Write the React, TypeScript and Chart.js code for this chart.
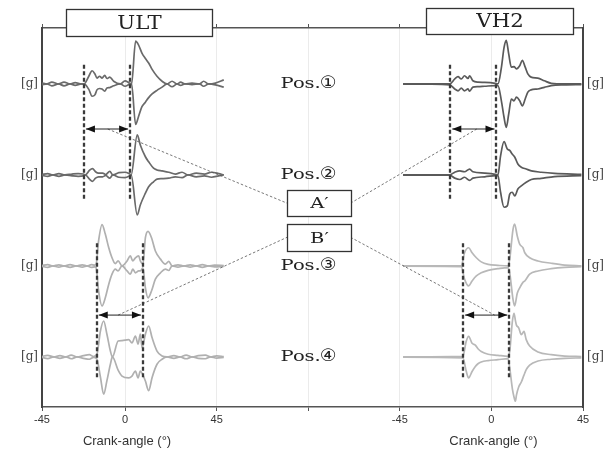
import React, { useEffect, useRef } from "react";
import { Chart, registerables } from "chart.js";

Chart.register(...registerables);

// ---------- axis / label values ----------
const xTickValues = [-40.8, 0, 45, 90, 135, 180, 225];
const xTickLabels = ["-45", "0", "45", "", "-45", "0", "45"];
const yTickValues = [0, 10, 20, 30];
const yTickLabel = "[g]";
const axisTitle = "Crank-angle (°)";
const engineNames = ["ULT", "VH2"];
const engineOffsets = [0, 180]; // VH2 panel is drawn 180 units to the right
const positionPrefix = "Pos.";
const positionMarks = ["①", "②", "③", "④"];
const positionBaselines = [30, 20, 10, 0];
const markerAnglesPos12 = [-20.2, 2.5];
const markerAnglesPos34 = [-13.9, 8.8];
const annotationNames = ["A′", "B′"];

// ---------- ULT traces (crank angle, upper / lower envelope in g) ----------
const ultPos1Angle = [-40.8, -38.3, -36.0, -32.6, -30.0, -27.0, -24.5, -21.5, -20.2, -17.8, -16.2, -14.8, -13.8, -12.5, -11.3, -10.0, -8.9, -7.5, -5.6, -2.3, 0.0, 2.1, 3.2, 5.2, 6.6, 8.3, 10.0, 11.6, 13.3, 15.7, 18.2, 20.6, 23.1, 25.6, 27.3, 29.3, 32.9, 36.6, 38.6, 41.1, 44.4, 48.5];
const ultPos1Upper = [0.1, 0, 0.2, 0, 0.2, 0, 0.15, 0, 0, 0.85, 1.45, 1.1, 0.65, 0.85, 0.65, 0.95, 0.6, 0.75, 0.3, 0, 0.35, 0.1, 0, 4.7, 4.3, 3.4, 2.8, 2.3, 1.6, 0.85, 0.3, 0, 0.3, 0, 0.2, 0, 0.1, 0, 0.3, 0, 0.1, 0.45];
const ultPos1Lower = [-0.1, 0, -0.2, 0, -0.2, 0, -0.15, 0, 0, -0.6, -1.35, -1.2, -0.65, -0.5, -0.55, -0.8, -0.45, -0.4, -0.2, 0, -0.25, -0.05, 0, -4.45, -3.6, -2.5, -2.0, -1.5, -1.1, -0.7, -0.35, 0, -0.3, 0, -0.15, 0, -0.07, 0, -0.25, 0, -0.1, -0.35];

const ultPos2Angle = [-40.8, -38.0, -35.5, -32.5, -29.5, -26.0, -23.0, -20.5, -19.5, -17.5, -16.0, -14.5, -13.0, -11.0, -9.5, -7.5, -6.0, -3.0, 0.0, 2.3, 3.0, 6.0, 7.5, 10.0, 11.6, 14.0, 15.7, 18.2, 21.5, 24.7, 28.0, 31.0, 35.0, 39.0, 42.5, 46.0, 48.5];
const ultPos2Upper = [0.05, 0.15, 0, 0.15, 0, 0.1, 0.15, 0.1, 0, 0.5, 0.7, 0.35, 0.2, 0.2, 0.05, 0.4, 0, 0.25, 0.3, 0.1, 0, 4.4, 3.3, 2.0, 1.45, 0.75, 0.55, 0.45, 0.3, 0.1, 0.3, 0, 0.2, 0.1, 0.3, 0.15, 0];
const ultPos2Lower = [-0.05, -0.15, 0, -0.15, 0, -0.1, -0.15, -0.1, 0, -0.45, -0.7, -0.35, -0.2, -0.2, -0.05, -0.35, 0, -0.25, -0.3, -0.1, 0, -4.4, -3.3, -2.0, -1.3, -0.75, -0.45, -0.4, -0.35, -0.2, -0.3, 0, -0.2, -0.1, -0.25, -0.1, 0];

const ultPos3Angle = [-40.8, -38.0, -35.5, -32.5, -30.0, -27.0, -24.0, -21.0, -18.5, -16.5, -15.0, -14.2, -13.0, -11.3, -9.7, -8.0, -6.4, -4.8, -3.4, -1.5, 1.0, 2.6, 3.8, 5.1, 6.7, 7.5, 8.8, 10.0, 11.3, 13.0, 14.9, 17.4, 19.8, 21.5, 23.1, 26.0, 29.0, 32.0, 35.0, 38.0, 41.0, 44.0, 48.5];
const ultPos3Upper = [0.05, 0.15, 0, 0.12, 0, 0.15, 0, 0.12, 0, 0.15, 0.1, 0.2, 2.75, 4.55, 3.5, 2.0, 0.9, 0.25, 0.55, 0, 0.55, 1.1, 0.55, 0.9, 1.1, 0.55, 0.2, 3.1, 3.8, 3.1, 1.65, 0.75, 0.2, 0.5, 0, 0.12, 0, 0.12, 0, 0.15, 0, 0.1, 0.05];
const ultPos3Lower = [-0.05, -0.15, 0, -0.12, 0, -0.15, 0, -0.12, 0, -0.15, -0.1, -0.2, -2.75, -4.4, -3.5, -2.0, -0.9, -0.35, -0.55, 0, -0.55, -0.9, -0.35, -0.75, -0.55, -0.55, -0.2, -2.4, -3.5, -2.75, -1.45, -0.75, -0.35, -0.5, 0, -0.12, 0, -0.12, 0, -0.15, 0, -0.1, -0.05];

const ultPos4Angle = [-40.8, -38.0, -35.0, -32.0, -29.0, -26.5, -23.5, -20.5, -17.5, -15.5, -13.8, -12.1, -10.5, -8.9, -7.2, -6.2, -3.4, -1.5, 1.8, 3.4, 5.1, 6.4, 7.5, 8.4, 10.0, 11.6, 13.3, 15.7, 18.2, 20.6, 24.0, 27.0, 30.0, 33.0, 36.0, 39.5, 42.0, 45.0, 48.5];
const ultPos4Upper = [0.05, 0.18, 0, 0.15, 0, 0.2, 0, 0.15, 0.25, 0.05, 0.3, 2.85, 3.95, 2.5, 0.65, 0, 1.75, 1.8, 1.9, 1.55, 2.3, 1.4, 2.5, 1.0, 2.5, 3.4, 2.1, 0.65, 0.1, 0, 0.15, 0, 0.2, 0, 0.15, 0.2, 0, 0.12, 0.05];
const ultPos4Lower = [-0.05, -0.18, 0, -0.15, 0, -0.2, 0, -0.15, -0.25, -0.05, -0.25, -2.2, -4.1, -2.6, -0.8, 0, -1.45, -2.1, -2.3, -2.1, -1.55, -2.3, -1.55, -1.8, -2.65, -3.7, -2.25, -0.8, -0.25, 0, -0.15, 0, -0.2, 0, -0.15, -0.2, 0, -0.12, -0.05];

// ---------- VH2 traces ----------
const vh2Pos1Angle = [-43.4, -29.5, -20.5, -18.0, -16.4, -14.8, -13.2, -11.5, -10.7, -9.1, -6.6, -3.3, 1.9, 3.2, 4.9, 6.2, 7.3, 8.5, 9.8, 11.1, 12.3, 13.9, 15.2, 16.6, 17.9, 19.5, 22.8, 26.0, 29.4, 36.0, 44.2];
const vh2Pos1Upper = [0.02, 0.02, 0, 0.55, 0.8, 0.55, 0.9, 0.6, 0.9, 0.35, 0.2, 0.18, 0.07, 0, 1.8, 4.0, 4.8, 3.3, 1.85, 1.9, 1.65, 2.0, 2.6, 1.85, 1.1, 0.75, 0.65, 0.35, 0.07, 0, 0];
const vh2Pos1Lower = [-0.02, -0.02, -0.1, -0.55, -0.75, -0.45, -0.75, -0.55, -0.8, -0.35, -0.3, -0.25, -0.18, -0.18, -1.85, -3.66, -4.76, -3.3, -1.65, -1.85, -1.45, -1.85, -2.4, -1.65, -0.9, -0.65, -0.55, -0.37, -0.18, -0.1, -0.07];

const vh2Pos2Angle = [-43.4, -20.5, -18.0, -15.5, -13.2, -10.7, -9.1, -3.3, 1.9, 3.2, 4.5, 6.2, 7.8, 9.0, 10.2, 11.5, 13.0, 14.7, 17.1, 19.6, 24.5, 31.0, 44.2];
const vh2Pos2Upper = [0.02, 0.02, 0.3, 0.45, 0.35, 0.65, 0.35, 0.2, 0.07, 0, 2.1, 3.66, 2.85, 2.7, 2.3, 1.95, 1.2, 0.85, 0.65, 0.45, 0.3, 0.18, 0.07];
const vh2Pos2Lower = [-0.02, -0.02, -0.35, -0.5, -0.25, -0.6, -0.35, -0.2, -0.07, -0.05, -1.9, -3.55, -3.4, -2.1, -1.9, -2.3, -1.55, -1.2, -0.8, -0.5, -0.37, -0.18, -0.07];

const vh2Pos3Angle = [-43.4, -14.8, -13.2, -11.2, -9.5, -7.4, -5.0, -1.6, 3.2, 8.2, 9.0, 10.6, 11.4, 12.7, 13.9, 15.5, 16.4, 18.8, 22.9, 29.4, 36.0, 44.2];
const vh2Pos3Upper = [0.02, 0.02, 1.45, 2.0, 1.45, 0.9, 0.45, 0.18, 0.07, 0, 0.75, 4.0, 4.6, 3.3, 2.4, 2.0, 1.45, 0.9, 0.55, 0.3, 0.1, 0];
const vh2Pos3Lower = [-0.02, -0.07, -1.45, -2.2, -1.65, -1.1, -0.75, -0.48, -0.3, -0.18, -0.75, -3.66, -4.4, -3.0, -2.4, -1.8, -1.65, -0.9, -0.55, -0.3, -0.15, -0.07];

const vh2Pos4Angle = [-43.4, -14.0, -12.4, -11.2, -9.5, -7.9, -6.6, -5.0, -1.6, 3.2, 8.2, 9.0, 10.3, 11.1, 11.8, 12.3, 13.4, 14.7, 16.0, 17.1, 18.8, 22.9, 29.4, 36.0, 44.2];
const vh2Pos4Upper = [0.02, 0.07, 1.7, 2.27, 1.5, 1.3, 0.9, 0.6, 0.3, 0.18, 0.07, 0.6, 3.9, 4.8, 4.0, 3.5, 3.2, 2.45, 2.8, 1.9, 1.2, 0.55, 0.25, 0.1, 0.05];
const vh2Pos4Lower = [-0.02, -0.1, -1.55, -2.3, -1.6, -1.05, -0.75, -0.55, -0.4, -0.3, -0.18, -1.2, -3.5, -4.4, -4.87, -4.2, -3.3, -2.75, -2.0, -1.4, -0.9, -0.45, -0.25, -0.15, -0.1];

// ---------- styling / layout (data units) ----------
const X_MIN = -40.8;
const X_MAX = 225;
const Y_MIN = -5.5;
const Y_MAX = 36.15;
const DARK_ULT = "#6a6a6a";
const LIGHT_ULT = "#b0b0b0";
const DARK_VH2 = "#5a5a5a";
const LIGHT_VH2 = "#b8b8b8";

const traces = [
  { angle: ultPos1Angle, upper: ultPos1Upper, lower: ultPos1Lower, pos: 0, eng: 0, color: DARK_ULT },
  { angle: ultPos2Angle, upper: ultPos2Upper, lower: ultPos2Lower, pos: 1, eng: 0, color: DARK_ULT },
  { angle: ultPos3Angle, upper: ultPos3Upper, lower: ultPos3Lower, pos: 2, eng: 0, color: LIGHT_ULT },
  { angle: ultPos4Angle, upper: ultPos4Upper, lower: ultPos4Lower, pos: 3, eng: 0, color: LIGHT_ULT },
  { angle: vh2Pos1Angle, upper: vh2Pos1Upper, lower: vh2Pos1Lower, pos: 0, eng: 1, color: DARK_VH2 },
  { angle: vh2Pos2Angle, upper: vh2Pos2Upper, lower: vh2Pos2Lower, pos: 1, eng: 1, color: DARK_VH2 },
  { angle: vh2Pos3Angle, upper: vh2Pos3Upper, lower: vh2Pos3Lower, pos: 2, eng: 1, color: LIGHT_VH2 },
  { angle: vh2Pos4Angle, upper: vh2Pos4Upper, lower: vh2Pos4Lower, pos: 3, eng: 1, color: LIGHT_VH2 },
];

const markerGroups = [
  { angles: markerAnglesPos12, top: 32.1, bottom: 17.1, arrowY: 25.05 },
  { angles: markerAnglesPos34, top: 12.5, bottom: -2.5, arrowY: 4.6 },
];

const engineBoxes = [
  { x0: -29.0, x1: 42.7, y0: 35.27, y1: 38.24 },
  { x0: 147.9, x1: 220.1, y0: 35.5, y1: 38.35 },
];
const annotationBoxes = [
  { x0: 79.6, x1: 110.8, y0: 15.45, y1: 18.35 },
  { x0: 79.6, x1: 110.8, y0: 11.65, y1: 14.6 },
];
const connectors = [
  { from: [-8.5, 25.05], to: [79.6, 16.9] },
  { from: [110.8, 16.9], to: [172.8, 25.05] },
  { from: [-3.4, 4.6], to: [79.6, 13.15] },
  { from: [110.8, 13.15], to: [181.6, 4.6] },
];
const POS_LABEL_X = 76.4;
const POS_MARK_X = 99.8;

function buildDatasets() {
  const ds: any[] = [];
  traces.forEach((t) => {
    const off = engineOffsets[t.eng];
    const base = positionBaselines[t.pos];
    [t.upper, t.lower].forEach((env) => {
      ds.push({
        data: t.angle.map((a, i) => ({ x: a + off, y: base + env[i] })),
        borderColor: t.color,
        borderWidth: 1.7,
        pointRadius: 0,
        fill: false,
        cubicInterpolationMode: "monotone",
        xAxisID: "x",
        yAxisID: "y",
      });
    });
  });
  return ds;
}

function drawStretchedText(ctx: CanvasRenderingContext2D, text: string, x: number, y: number, font: string, sx: number, align: "left" | "center") {
  ctx.save();
  ctx.font = font;
  ctx.textBaseline = "middle";
  ctx.textAlign = align;
  ctx.translate(x, y);
  ctx.scale(sx, 1);
  ctx.fillText(text, 0, 0);
  ctx.restore();
}

const bgPlugin = {
  id: "bg",
  beforeDraw(chart: any) {
    const ctx = chart.ctx;
    ctx.save();
    ctx.fillStyle = "#ffffff";
    ctx.fillRect(0, 0, chart.width, chart.height);
    ctx.restore();
  },
};

const overlayPlugin = {
  id: "overlay",
  afterDraw(chart: any) {
    const ctx: CanvasRenderingContext2D = chart.ctx;
    const xs = chart.scales.x;
    const ys = chart.scales.y;
    const X = (v: number) => xs.getPixelForValue(v);
    const Y = (v: number) => ys.getPixelForValue(v);
    ctx.save();

    // thin dashed connectors
    ctx.strokeStyle = "#555";
    ctx.lineWidth = 0.8;
    ctx.setLineDash([2.5, 2]);
    connectors.forEach((c) => {
      ctx.beginPath();
      ctx.moveTo(X(c.from[0]), Y(c.from[1]));
      ctx.lineTo(X(c.to[0]), Y(c.to[1]));
      ctx.stroke();
    });

    // dashed vertical markers + arrows
    engineOffsets.forEach((off) => {
      markerGroups.forEach((g) => {
        ctx.strokeStyle = "#3a3a3a";
        ctx.lineWidth = 2.3;
        ctx.setLineDash([4, 2.5]);
        g.angles.forEach((a) => {
          const px = Math.round(X(a + off));
          ctx.beginPath();
          ctx.moveTo(px, Y(g.top));
          ctx.lineTo(px, Y(g.bottom));
          ctx.stroke();
        });
        const xa = X(g.angles[0] + off) + 2;
        const xb = X(g.angles[1] + off) - 2;
        const ya = Y(g.arrowY);
        ctx.setLineDash([]);
        ctx.strokeStyle = "#222";
        ctx.lineWidth = 1;
        ctx.beginPath();
        ctx.moveTo(xa, ya);
        ctx.lineTo(xb, ya);
        ctx.stroke();
        ctx.fillStyle = "#111";
        ctx.beginPath();
        ctx.moveTo(xa, ya);
        ctx.lineTo(xa + 9, ya - 3.5);
        ctx.lineTo(xa + 9, ya + 3.5);
        ctx.closePath();
        ctx.fill();
        ctx.beginPath();
        ctx.moveTo(xb, ya);
        ctx.lineTo(xb - 9, ya - 3.5);
        ctx.lineTo(xb - 9, ya + 3.5);
        ctx.closePath();
        ctx.fill();
      });
    });

    // boxes
    ctx.setLineDash([]);
    const drawBox = (b: any, text: string, font: string, sx: number) => {
      const x0 = Math.round(X(b.x0)) + 0.5;
      const x1 = Math.round(X(b.x1)) + 0.5;
      const y0 = Math.round(Y(b.y1)) + 0.5;
      const y1 = Math.round(Y(b.y0)) + 0.5;
      ctx.fillStyle = "#fff";
      ctx.fillRect(x0, y0, x1 - x0, y1 - y0);
      ctx.strokeStyle = "#333";
      ctx.lineWidth = 1.3;
      ctx.strokeRect(x0, y0, x1 - x0, y1 - y0);
      ctx.fillStyle = "#222";
      drawStretchedText(ctx, text, (x0 + x1) / 2, (y0 + y1) / 2 + 1, font, sx, "center");
    };
    engineBoxes.forEach((b, i) => drawBox(b, engineNames[i], '19px "DejaVu Serif", serif', 1.12));
    annotationBoxes.forEach((b, i) => drawBox(b, annotationNames[i], '15px "DejaVu Serif", serif', 1.3));

    // position labels
    ctx.fillStyle = "#222";
    positionMarks.forEach((m, i) => {
      const yy = Y(positionBaselines[i]);
      drawStretchedText(ctx, positionPrefix, X(POS_LABEL_X), yy, '15px "DejaVu Serif", serif', 1.3, "left");
      drawStretchedText(ctx, m, X(POS_MARK_X), yy, '17px "DejaVu Sans", "Noto Sans CJK SC", sans-serif', 1.1, "center");
    });

    // axis titles under each panel
    ctx.fillStyle = "#333";
    ctx.font = '13px "Liberation Sans", Arial, sans-serif';
    ctx.textAlign = "center";
    ctx.textBaseline = "middle";
    const ty = chart.chartArea.bottom + 34;
    engineOffsets.forEach((off) => {
      ctx.fillText(axisTitle, X(off) + 2, ty);
    });

    ctx.restore();
  },
};

export default function App() {
  const ref = useRef<HTMLCanvasElement>(null);
  useEffect(() => {
    const canvas = ref.current as HTMLCanvasElement;
    const xTickOpts = (s: any) => {
      s.ticks = xTickValues.map((v) => ({ value: v }));
    };
    const yTickOpts = (s: any) => {
      s.ticks = yTickValues.map((v) => ({ value: v }));
    };
    const chart = new Chart(canvas, {
      type: "line",
      data: { datasets: buildDatasets() },
      options: {
        responsive: false,
        animation: false,
        devicePixelRatio: 1,
        layout: { padding: 0 },
        plugins: { legend: { display: false }, tooltip: { enabled: false }, title: { display: false } },
        elements: { point: { radius: 0 } },
        scales: {
          x: {
            type: "linear",
            position: "bottom",
            min: X_MIN,
            max: X_MAX,
            afterBuildTicks: xTickOpts,
            afterFit: (s: any) => {
              s.height = 45;
            },
            ticks: {
              autoSkip: false,
              maxRotation: 0,
              minRotation: 0,
              padding: 2,
              color: "#333",
              font: { family: '"Liberation Sans", Arial, sans-serif', size: 11 },
              callback: (_v: any, i: number) => xTickLabels[i],
            },
            grid: { color: "#ebebeb", lineWidth: 1, drawTicks: true, tickLength: 4, tickColor: "#555" },
            border: { color: "#555", width: 1.5 },
          },
          x2: {
            type: "linear",
            position: "top",
            min: X_MIN,
            max: X_MAX,
            afterBuildTicks: xTickOpts,
            afterFit: (s: any) => {
              s.height = 28;
            },
            ticks: { display: false },
            grid: { drawOnChartArea: false, drawTicks: true, tickLength: 4, tickColor: "#555" },
            border: { color: "#555", width: 1.5 },
          },
          y: {
            type: "linear",
            position: "left",
            min: Y_MIN,
            max: Y_MAX,
            afterBuildTicks: yTickOpts,
            afterFit: (s: any) => {
              s.width = 42;
            },
            ticks: {
              padding: 4,
              color: "#444",
              font: { family: '"DejaVu Serif", serif', size: 12 },
              callback: () => yTickLabel,
            },
            grid: { drawOnChartArea: false, drawTicks: false },
            border: { color: "#444", width: 2 },
          },
          y2: {
            type: "linear",
            position: "right",
            min: Y_MIN,
            max: Y_MAX,
            afterBuildTicks: yTickOpts,
            afterFit: (s: any) => {
              s.width = 28;
            },
            ticks: {
              padding: 4,
              color: "#444",
              font: { family: '"DejaVu Serif", serif', size: 12 },
              callback: () => yTickLabel,
            },
            grid: { drawOnChartArea: false, drawTicks: false },
            border: { color: "#444", width: 2 },
          },
        },
      } as any,
      plugins: [bgPlugin, overlayPlugin],
    });
    return () => chart.destroy();
  }, []);
  return (
    <div style={{ position: "fixed", left: 0, top: 0, width: 611, height: 452, background: "#fff" }}>
      <canvas ref={ref} width={611} height={452} style={{ display: "block", width: 611, height: 452 }} />
    </div>
  );
}
